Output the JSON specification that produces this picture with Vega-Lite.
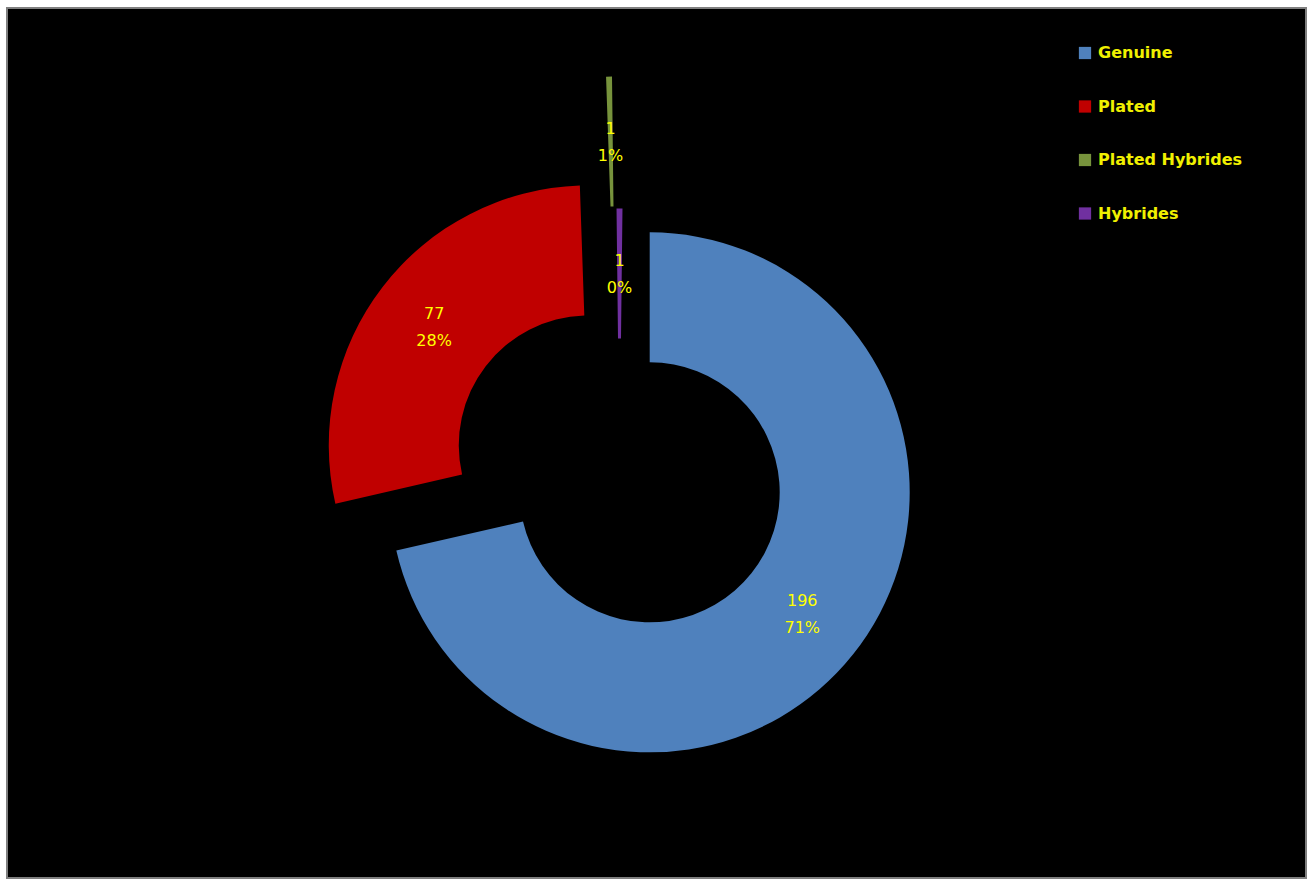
{
  "$schema": "https://vega.github.io/schema/vega-lite/v6.json",
  "width": 1299,
  "height": 870,
  "autosize": {"type": "none"},
  "padding": {"left": 7, "top": 8, "right": 5, "bottom": 3},
  "background": "white",
  "config": {
    "view": {"fill": "#000000", "stroke": "#7f7f7f", "strokeWidth": 2}
  },
  "data": {
    "values": [
      {"idx": 1, "category": "Genuine", "value": 196, "pct": "71%"},
      {"idx": 2, "category": "Plated", "value": 77, "pct": "28%"},
      {"idx": 3, "category": "Plated Hybrides", "value": 1, "pct": "1%"},
      {"idx": 4, "category": "Hybrides", "value": 1, "pct": "0%"}
    ]
  },
  "transform": [
    {"stack": "value", "groupby": [], "sort": [{"field": "idx"}], "as": ["v0", "v1"]},
    {"joinaggregate": [{"op": "sum", "field": "value", "as": "total"}]},
    {"calculate": "(datum.v0 + datum.v1) / 2", "as": "vm"},
    {"calculate": "datum.vm / datum.total * 2 * PI", "as": "ang"},
    {"calculate": "datum.category == 'Plated Hybrides' ? 0.508 : (datum.category == 'Hybrides' ? 0 : 0.148)", "as": "explode"},
    {"calculate": "datum.explode * sin(datum.ang)", "as": "ex"},
    {"calculate": "datum.explode * cos(datum.ang)", "as": "ey"},
    {"calculate": "datum.value + '\\n' + datum.pct", "as": "label"}
  ],
  "encoding": {
    "x": {"field": "ex", "type": "quantitative", "scale": {"domain": [-2.3558, 2.6404], "nice": false, "zero": false}, "axis": null},
    "y": {"field": "ey", "type": "quantitative", "scale": {"domain": [-1.575, 1.7712], "nice": false, "zero": false}, "axis": null}
  },
  "layer": [
    {
      "mark": {"type": "arc", "outerRadius": 260, "innerRadius": 130},
      "encoding": {
        "theta": {"field": "v0", "type": "quantitative", "stack": null},
        "theta2": {"field": "v1"},
        "color": {
          "field": "category",
          "type": "nominal",
          "scale": {
            "domain": ["Genuine", "Plated", "Plated Hybrides", "Hybrides"],
            "range": ["#4F81BD", "#C00000", "#77933C", "#7030A0"]
          },
          "legend": {
            "orient": "none",
            "legendX": 1070,
            "legendY": 37,
            "title": null,
            "padding": 0,
            "symbolType": "square",
            "symbolSize": 150,
            "symbolStrokeWidth": 0,
            "symbolOpacity": 1,
            "labelColor": "#f0f000",
            "labelFont": "DejaVu Sans",
            "labelFontWeight": "bold",
            "labelFontSize": 16,
            "labelOffset": 5,
            "rowPadding": 37.5
          }
        }
      }
    },
    {
      "mark": {"type": "text", "radius": 195, "dy": -13, "align": "center", "baseline": "middle", "lineBreak": "\n", "lineHeight": 27, "font": "DejaVu Sans", "fontSize": 16, "color": "#ffff00"},
      "encoding": {
        "theta": {"field": "vm", "type": "quantitative", "stack": null},
        "text": {"field": "label"}
      }
    }
  ]
}
